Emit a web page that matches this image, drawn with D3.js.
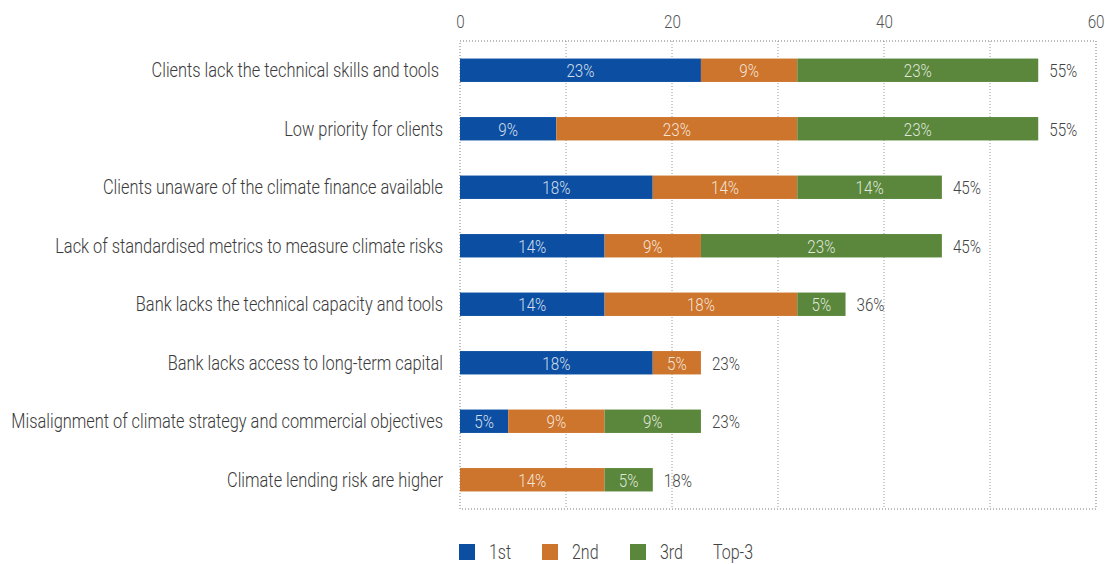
<!DOCTYPE html>
<html>
<head>
<meta charset="utf-8">
<script src="https://cdn.jsdelivr.net/npm/d3@7"></script>
<style>
  html, body { margin: 0; padding: 0; background: #fff; }
  svg text { font-family: "Roboto", "DejaVu Sans Condensed", sans-serif; font-weight: 300; white-space: pre; }
</style>
</head>
<body>
<svg id="chart" width="1105" height="564"></svg>
<script>
// Barriers to climate lending, share of respondents ranking each as 1st, 2nd, 3rd (%)
const categories = [
  "Clients lack the technical skills and tools ",
  "Low priority for clients",
  "Clients unaware of the climate finance available",
  "Lack of standardised metrics to measure climate risks",
  "Bank lacks the technical capacity and tools",
  "Bank lacks access to long-term capital",
  "Misalignment of climate strategy and commercial objectives",
  "Climate lending risk are higher"
];
const first  = [22.73, 9.09, 18.18, 13.64, 13.64, 18.18, 4.55, 0];
const second = [9.09, 22.73, 13.64, 9.09, 18.18, 4.55, 9.09, 13.64];
const third  = [22.73, 22.73, 13.64, 22.73, 4.55, 0, 9.09, 4.55];
const seriesNames = ["1st", "2nd", "3rd", "Top-3"];
const seriesColors = ["#0c4fa2", "#cd752c", "#5a873b", "none"];
const xTicks = [0, 20, 40, 60];

const svg = d3.select("#chart");
const margin = { top: 41, right: 9, bottom: 55, left: 460 };
const W = 1105, H = 564;
const innerW = W - margin.left - margin.right;
const innerH = H - margin.top - margin.bottom;
const sx = 0.8;     // horizontal squeeze for a condensed look
const sxCat = 0.82; // squeeze for the category labels

const x = d3.scaleLinear().domain([0, 60]).range([0, innerW]);
const y = d3.scaleBand().domain(categories).range([0, innerH]).paddingInner(0.6).paddingOuter(0.3);

const g = svg.append("g").attr("transform", `translate(${margin.left},${margin.top})`);

// dotted vertical gridlines every 10
g.append("g").selectAll("line")
  .data(d3.range(10, 60, 10))
  .join("line")
  .attr("x1", d => x(d)).attr("x2", d => x(d))
  .attr("y1", 0).attr("y2", innerH)
  .attr("stroke", "#9a9a9a").attr("stroke-width", 1)
  .attr("stroke-dasharray", "1,2");

// dotted plot frame
g.append("rect")
  .attr("x", 0).attr("y", 0).attr("width", x(60)).attr("height", innerH)
  .attr("fill", "none").attr("stroke", "#777").attr("stroke-width", 1)
  .attr("stroke-dasharray", "1,2");

// top axis labels
const xAxis = d3.axisTop(x).tickValues(xTicks).tickSize(0).tickPadding(0);
const ax = svg.append("g").attr("transform", `translate(${margin.left},28)`).call(xAxis);
ax.select(".domain").remove();
ax.selectAll("text")
  .attr("font-size", 19).attr("fill", "#555")
  .attr("transform", `scale(${sx},1)`)
  .attr("text-anchor", (d, i) => i === xTicks.length - 1 ? "end" : "middle")
  .attr("x", (d, i) => i === xTicks.length - 1 ? 8 / sx : 0);
ax.attr("font-family", null);

// stacked data
const rows = categories.map((c, i) => ({ cat: c, s0: first[i], s1: second[i], s2: third[i] }));
const stack = d3.stack().keys(["s0", "s1", "s2"]);
const layers = stack(rows);

const layerG = g.selectAll(".layer").data(layers).join("g")
  .attr("class", "layer")
  .attr("fill", (d, i) => seriesColors[i]);

layerG.selectAll("rect")
  .data(d => d.filter(p => p[1] - p[0] > 0))
  .join("rect")
  .attr("x", d => x(d[0]))
  .attr("y", d => y(d.data.cat))
  .attr("width", d => x(d[1]) - x(d[0]))
  .attr("height", y.bandwidth());

// values inside segments
layerG.selectAll("text")
  .data(d => d.filter(p => p[1] - p[0] > 0))
  .join("text")
  .attr("transform", d => `translate(${(x(d[0]) + x(d[1])) / 2},${y(d.data.cat) + y.bandwidth() / 2}) scale(${sx},1)`)
  .attr("text-anchor", "middle").attr("dy", "0.36em")
  .attr("font-size", 19).attr("fill", "#fff").attr("fill-opacity", 0.82)
  .text(d => Math.round(d[1] - d[0]) + "%");

// Top-3 totals
g.selectAll(".total").data(rows).join("text")
  .attr("class", "total")
  .attr("transform", d => `translate(${x(d.s0 + d.s1 + d.s2) + 11},${y(d.cat) + y.bandwidth() / 2}) scale(${sx},1)`)
  .attr("dy", "0.36em").attr("font-size", 19).attr("fill", "#444")
  .text(d => Math.round(d.s0 + d.s1 + d.s2) + "%");

// category labels
g.selectAll(".cat").data(categories).join("text")
  .attr("class", "cat")
  .attr("transform", d => `translate(-17,${y(d) + y.bandwidth() / 2}) scale(${sxCat},1)`)
  .attr("text-anchor", "end").attr("dy", "0.36em")
  .attr("font-size", 20).attr("fill", "#3a3a3a")
  .text(d => d);

// legend
const legendX = [459, 542, 630, 713];
const lg = svg.append("g").attr("transform", "translate(0,552)");
seriesNames.forEach((name, i) => {
  const item = lg.append("g");
  let tx = legendX[i];
  if (seriesColors[i] !== "none") {
    item.append("rect").attr("x", legendX[i]).attr("y", -8).attr("width", 16).attr("height", 16)
      .attr("fill", seriesColors[i]);
    tx = legendX[i] + 30;
  }
  item.append("text")
    .attr("transform", `translate(${tx},0) scale(${sx},1)`)
    .attr("dy", "0.36em").attr("font-size", 20).attr("fill", "#444")
    .text(name);
});
</script>
</body>
</html>
